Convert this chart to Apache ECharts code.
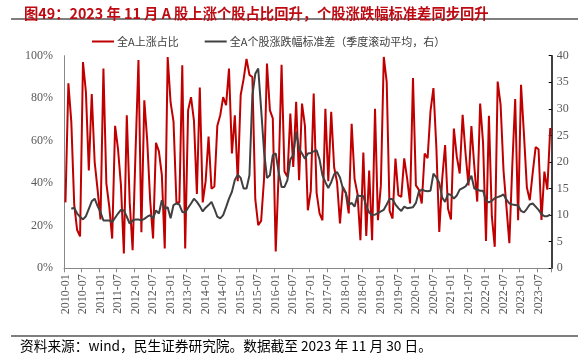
<!DOCTYPE html>
<html>
<head>
<meta charset="utf-8">
<script src="https://cdn.jsdelivr.net/npm/echarts@6/dist/echarts.min.js"></script>
<style>
html,body{margin:0;padding:0;background:#fff;}
#c{width:586px;height:357px;}
</style>
</head>
<body>
<div id="c"></div>
<script>
// Months 2010-01 .. 2023-11
var startYear = 2010, endYear = 2023, endMonth = 11;
var months = [];
for (var y = startYear; y <= endYear; y++) {
  for (var m = 1; m <= 12; m++) {
    if (y === endYear && m > endMonth) break;
    months.push(y + '-' + (m < 10 ? '0' + m : m));
  }
}

// 全A上涨占比 (%)
var upRatio = [
  31, 87, 69, 30, 18, 15, 97, 83, 46, 82, 50, 37,
  23, 94, 40, 29, 14, 67, 56, 39, 7, 72, 31, 8.5,
  55, 98, 17, 79, 60, 32, 14, 59, 55, 44, 9.3, 99.4,
  78, 69, 31, 31, 95.5, 9.3, 74.4, 80.5, 69.5, 35, 85, 31,
  41, 62, 37.5, 38.5, 67, 72, 80.5, 76.7, 94, 54, 72, 41,
  81.5, 89, 98.5, 91, 90, 32.5, 20.3, 22.3, 42, 96.3, 74.4, 70.5,
  7.9, 45, 95.7, 45.5, 43, 72.8, 47.7, 78.3, 41.4, 77.5, 67, 27.3,
  36.3, 82.2, 35.5, 25.8, 22.6, 75, 41, 73.6, 47.5, 40.5, 21.1, 38.3,
  35.5, 25.8, 68, 42, 35, 13.2, 54.5, 15.2, 46, 13.2, 75, 22.6,
  39, 99.4, 87.7, 27, 23.4, 51.6, 34.4, 33.6, 51.7, 42.2, 30.5, 89.5,
  39, 37, 30.5, 54, 51.8, 74, 84.8, 57, 17.1, 42, 58, 28,
  23, 65.7, 52.5, 44.6, 72.2, 54, 39, 66.9, 48, 31.4, 77.5, 59,
  12.8, 71.7, 24.5, 10.1, 87.8, 77, 46, 29, 11.8, 48, 79.6, 22.6,
  86.3, 63, 38, 32, 45, 57, 56, 22.7, 45.5, 37, 66
];

// 全A个股涨跌幅标准差（季度滚动平均，右）
var stdDev = [
  null, null, 11.2, 11.4, 10.3, 9.7, 9.2, 9.8, 11.2, 12.6, 13.1, 11.7,
  10.6, 9.0, 9.0, 9.0, 8.7, 9.5, 10.3, 11.0, 10.9, 9.7, 8.4, 9.0,
  9.2, 9.2, 9.0, 9.3, 9.7, 10.0, 9.4, 10.9, 10.3, 12.8, 11.2, 11.5,
  9.4, 11.9, 12.2, 12.0, 10.6, 10.5, 11.4, 12.2, 13.1, 12.5, 11.7, 10.7,
  11.4, 11.9, 12.5, 11.2, 9.7, 9.4, 10.0, 11.5, 13.1, 14.4, 16.6, 17.6,
  17.0, 15.0, 15.0, 17.5, 32.5, 36.6, 37.6, 30.0, 22.0, 17.0, 17.5, 21.3,
  21.6, 18.1, 15.3, 15.3, 16.6, 20.5, 21.3, 25.7, 22.5, 21.6, 20.6, 21.6,
  21.7, 22.0, 22.2, 20.5, 17.5, 16.2, 15.1, 16.2, 17.7, 18.1, 17.1, 15.0,
  14.2, 11.9, 12.3, 11.6, 13.7, 13.6, 13.6, 11.7, 10.5, 10.0, 10.1, 10.4,
  10.7, 11.0, 12.0, 13.1, 13.0, 12.0, 11.3, 10.8, 11.6, 11.3, 11.4, 11.5,
  12.3, 14.4, 14.8, 14.6, 14.5, 14.6, 17.8, 17.1, 16.1, 13.3, 12.5, 14.0,
  13.8, 13.1, 13.7, 14.8, 15.1, 15.4, 16.3, 17.4, 15.0, 14.8, 14.6, 14.6,
  12.7, 12.4, 12.7, 13.2, 13.4, 13.6, 13.9, 12.9, 12.2, 12.0, 11.9, 11.8,
  10.8, 10.5, 11.2, 12.0, 12.2, 11.6, 11.0, 10.2, 9.8, 9.8, 10.1
];

var leftTicks = { min: 0, max: 100, interval: 20 };
var rightTicks = { min: 0, max: 40, interval: 5 };

var chart = echarts.init(document.getElementById('c'), null, { renderer: 'canvas' });
var serifFont = '"Liberation Serif", "Times New Roman", serif';
var cjkFont = '"Noto Sans CJK SC", "Noto Sans", sans-serif';

chart.setOption({
  animation: false,
  backgroundColor: '#fff',
  title: {
    text: '图49：2023 年 11 月 A 股上涨个股占比回升，个股涨跌幅标准差同步回升',
    left: 19, top: 1,
    textStyle: { fontFamily: cjkFont, fontSize: 14.3, fontWeight: 'bold', color: '#BE0A12' }
  },
  graphic: [
    { type: 'line', shape: { x1: 11, y1: 19, x2: 578, y2: 19 }, style: { stroke: '#555', lineWidth: 1.5 } },
    { type: 'line', shape: { x1: 11, y1: 336, x2: 578, y2: 336 }, style: { stroke: '#555', lineWidth: 1.5 } },
    { type: 'text', left: 20, top: 339,
      style: { text: '资料来源：wind，民生证券研究院。数据截至 2023 年 11 月 30 日。',
               font: '13.7px ' + cjkFont, fill: '#000' } }
  ],
  legend: {
    left: 87, top: 31,
    itemWidth: 22, itemHeight: 2, itemGap: 26,
    icon: 'rect',
    textStyle: { fontFamily: cjkFont, fontSize: 11, color: '#404040', padding: [0, 0, 0, -2] },
    data: ['全A上涨占比', '全A个股涨跌幅标准差（季度滚动平均，右）']
  },
  grid: { left: 64, right: 34.3, top: 55.7, bottom: 88.7 },
  xAxis: {
    type: 'category',
    data: months,
    boundaryGap: true,
    axisLine: { lineStyle: { color: '#888', width: 1 } },
    axisTick: { show: true, interval: 5, length: 4, lineStyle: { color: '#888' } },
    axisLabel: { interval: 5, rotate: 90, margin: 6, fontFamily: serifFont, fontSize: 12, color: '#595959' },
    splitLine: { show: false }
  },
  yAxis: [
    {
      type: 'value', min: leftTicks.min, max: leftTicks.max, interval: leftTicks.interval,
      axisLine: { show: true, lineStyle: { color: '#888', width: 1 } },
      axisTick: { show: false },
      axisLabel: { formatter: '{value}%', margin: 11, fontFamily: serifFont, fontSize: 12, color: '#595959' },
      splitLine: { show: false }
    },
    {
      type: 'value', min: rightTicks.min, max: rightTicks.max, interval: rightTicks.interval,
      position: 'right',
      axisLine: { show: true, lineStyle: { color: '#000', width: 1.5 } },
      axisTick: { show: true, inside: true, length: 3, lineStyle: { color: '#000' } },
      axisLabel: { margin: 5, fontFamily: serifFont, fontSize: 12, color: '#595959' },
      splitLine: { show: false }
    }
  ],
  series: [
    {
      name: '全A上涨占比', type: 'line', data: upRatio, yAxisIndex: 0,
      symbol: 'none', lineStyle: { color: '#C00000', width: 2 }, itemStyle: { color: '#C00000' }
    },
    {
      name: '全A个股涨跌幅标准差（季度滚动平均，右）', type: 'line', data: stdDev, yAxisIndex: 1,
      symbol: 'none', lineStyle: { color: '#404040', width: 2 }, itemStyle: { color: '#404040' }
    }
  ]
});
</script>
</body>
</html>
